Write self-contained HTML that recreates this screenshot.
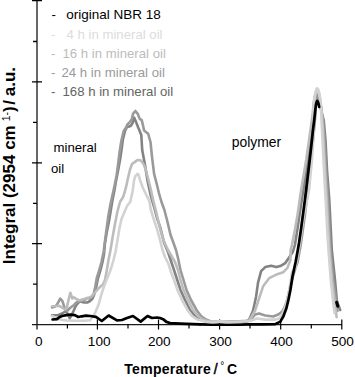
<!DOCTYPE html>
<html><head><meta charset="utf-8"><style>
html,body{margin:0;padding:0;background:#fff;}
body{width:355px;height:377px;overflow:hidden;position:relative;font-family:"Liberation Sans",sans-serif;}
svg{position:absolute;left:0;top:0;}
</style></head><body>
<svg width="355" height="377" viewBox="0 0 355 377" font-family="Liberation Sans, sans-serif">
<g stroke="#000" fill="none">
<line x1="37" y1="0" x2="37" y2="329.5" stroke-width="1.2"/>
<line x1="32" y1="324.6" x2="342" y2="324.6" stroke-width="1.2" stroke="#1a1a1a"/>
<path d="M32 0.7H42M33 41.5H37M32 81.8H42M33 122.4H37M32 162.8H42M33 203.4H37M32 243.6H42M33 284.2H37" stroke-width="1.3"/>
<path d="M67.4 324V328.5M97.4 319.5V329.5M128 324V328.5M158.5 319.5V329.5M189 324V328.5M219.6 319.5V329.5M250 324V328.5M280.7 319.5V329.5M311.3 324V328.5M341.8 319.5V329.5" stroke-width="1.2"/>
</g>
<g fill="none" stroke-linejoin="round" stroke-linecap="round">
<polyline points="200.0,324.4 212.0,324.7 225.0,324.6 238.0,324.7 250.0,324.4" stroke="#000" stroke-width="2.7"/>
<polyline points="52.0,315.3 58.0,315.3 62.0,313.5 66.0,311.0 68.7,315.8 69.7,318.3 72.4,313.6 75.6,306.2 78.0,303.0 80.5,301.5 84.0,302.5 87.3,302.5 90.0,301.0 92.5,298.5 94.4,294.0 96.2,287.0 98.0,278.0 100.5,270.0 102.5,262.0 104.0,254.0 105.0,243.0 107.0,231.0 109.0,221.0 110.5,212.0 112.5,200.0 114.5,190.0 116.0,181.0 118.0,171.0 120.0,160.0 121.5,150.0 122.8,140.0 125.0,131.0 127.0,127.0 129.0,126.5 131.0,125.7 132.6,122.9 134.2,117.7 136.1,122.1 138.1,127.3 140.1,132.0 141.3,135.0 142.2,150.0 145.0,165.0 147.7,181.8 150.9,196.1 154.9,210.0 157.0,218.0 160.1,226.9 164.1,242.8 168.0,252.0 174.0,270.0 180.5,290.0 185.0,300.0 190.0,310.0 195.0,316.0 201.0,319.5 208.0,321.9 215.0,322.3 222.0,321.6 230.0,322.2 240.0,321.9 246.0,321.5 249.0,320.0 253.1,310.5 256.1,296.4 258.1,282.3 261.1,271.2 265.2,267.1 271.2,265.7 276.3,267.1 280.3,266.1 285.3,263.1 289.4,257.0 292.8,252.0 294.9,245.0 297.3,230.0 299.5,215.0 303.3,190.0 308.1,160.0 312.0,130.0 313.9,115.0 314.6,106.0 315.5,100.5 316.5,98.0 317.4,97.5 318.3,99.0 319.2,102.0 320.2,106.0 322.0,114.0 323.7,120.0 325.5,140.0 327.0,170.0 329.3,200.0 330.8,230.0 331.8,250.0 335.0,280.0 336.8,300.0 338.3,305.0 340.2,310.0" stroke="#838383" stroke-width="2.6"/>
<polyline points="52.0,307.5 55.0,306.5 57.0,304.6 60.2,298.6 62.3,300.9 63.9,305.7 65.0,309.4 67.0,311.0 70.0,308.0 74.0,305.0 77.0,302.0 80.0,301.0 84.0,300.5 87.0,298.0 90.0,298.5 92.0,297.0 93.8,293.5 95.2,287.0 96.8,278.0 99.3,270.0 101.5,262.0 103.6,252.0 105.5,237.0 107.0,226.0 108.5,215.0 110.5,204.0 112.5,195.0 114.5,186.0 116.5,176.0 118.0,165.0 119.6,152.0 121.3,141.0 123.7,131.0 125.8,128.0 127.4,124.5 129.8,122.1 131.8,119.3 133.0,113.8 135.4,111.0 137.7,113.8 139.7,118.9 141.7,120.1 142.9,124.9 144.1,130.5 148.1,133.7 150.5,142.0 151.8,155.0 154.1,173.9 157.0,185.0 158.9,193.0 161.5,202.0 164.4,210.0 167.5,222.0 170.5,234.8 173.5,243.0 176.0,250.0 178.0,258.0 180.5,270.0 183.5,280.0 186.5,290.0 191.0,300.0 196.5,310.0 201.0,316.0 206.0,319.5 212.0,321.9 218.0,321.3 225.0,322.1 232.0,321.4 240.0,322.0 247.0,321.5 250.0,320.0 255.1,314.5 259.1,313.5 265.2,315.5 273.2,316.5 278.3,314.5 282.3,311.5 284.5,307.5 286.5,302.0 289.5,290.0 292.5,278.0 295.5,268.0 297.6,262.0 300.7,245.0 304.9,215.0 307.9,190.0 310.9,160.0 314.0,130.0 315.4,115.0 315.6,106.0 316.2,99.0 316.8,95.5 317.5,94.3 318.4,95.5 319.4,99.0 320.4,104.0 321.5,111.0 323.0,120.0 324.5,140.0 326.0,170.0 328.0,200.0 329.5,230.0 330.5,250.0 333.2,280.0 336.0,300.0 337.5,311.0" stroke="#9a9a9a" stroke-width="2.6"/>
<polyline points="52.0,306.3 56.5,306.0 58.6,305.7 62.0,307.5 65.0,309.5 66.8,308.0 68.5,300.0 70.3,292.7 72.4,298.5 73.9,297.3 75.3,298.4 79.5,300.5 81.6,299.8 85.8,298.4 88.7,297.7 91.5,296.3 93.0,295.0 95.0,292.5 97.2,289.9 100.0,287.0 103.0,284.6 105.0,280.0 106.5,272.0 108.5,260.0 110.5,250.0 112.8,236.0 115.0,224.0 117.3,212.0 120.0,202.0 123.1,197.0 125.0,191.0 126.3,185.9 128.0,178.0 129.9,170.0 132.0,164.0 135.0,161.9 137.5,160.0 140.6,160.3 143.7,164.3 146.1,170.7 148.5,180.2 150.9,189.8 153.3,200.9 155.7,210.0 158.0,220.0 161.0,232.0 164.5,242.8 168.0,250.0 171.5,256.0 175.0,262.0 178.0,270.0 180.5,280.0 183.5,290.0 188.0,300.0 193.0,310.0 198.0,316.0 203.0,319.5 209.0,321.6 216.0,321.9 222.0,321.3 235.0,321.8 242.0,321.1 247.0,320.7 249.0,320.6 252.0,316.0 255.1,310.5 259.1,298.4 263.1,286.3 269.2,278.2 277.3,274.2 283.3,272.2 287.3,268.1 290.4,260.1 290.6,250.0 291.9,245.0 294.9,230.0 297.5,215.0 301.1,190.0 306.2,160.0 310.5,130.0 312.6,115.0 313.5,104.0 314.6,97.0 315.7,92.0 317.0,89.0 318.2,90.5 319.3,94.5 320.3,100.0 321.2,107.0 322.3,120.0 323.5,140.0 325.0,170.0 326.8,200.0 328.3,230.0 329.5,250.0 332.0,280.0 334.5,300.0 336.6,317.2" stroke="#bcbcbc" stroke-width="2.6"/>
<polyline points="52.0,316.0 57.0,318.5 62.0,320.0 67.0,320.5 75.0,320.8 84.0,320.8 90.0,320.3 92.0,317.5 93.9,315.1 95.9,311.1 98.6,304.5 101.2,295.2 103.8,287.0 106.5,280.0 109.0,274.0 111.5,267.0 113.5,260.0 115.5,252.0 117.5,240.0 119.5,228.0 121.5,219.0 124.7,211.4 127.0,206.0 130.3,201.8 132.7,190.7 134.2,179.5 135.5,176.0 137.4,173.8 138.5,174.5 139.8,179.4 143.0,188.2 146.1,194.5 147.7,197.7 149.3,200.9 150.9,210.0 154.0,220.0 157.0,229.0 160.0,240.0 162.5,250.0 165.0,257.0 168.5,264.0 171.0,272.0 174.0,280.0 177.5,290.0 182.0,300.0 187.5,310.0 192.0,316.0 198.0,319.8 205.0,321.6 212.0,322.1 220.0,321.4 228.0,322.1 240.0,321.7 250.0,321.0 254.0,319.5 257.1,318.5 265.2,319.6 275.2,319.6 279.0,318.5 282.0,315.0 284.5,309.0 286.5,302.0 288.5,294.0 290.2,284.0 292.0,272.0 295.3,268.0 299.7,245.0 303.9,215.0 309.1,190.0 311.9,160.0 314.0,130.0 313.2,115.0 313.9,104.0 314.9,96.0 315.9,91.0 317.0,88.3 318.1,89.5 319.2,93.0 320.2,99.0 320.9,106.0 321.5,120.0 322.5,140.0 324.0,170.0 325.7,200.0 327.2,230.0 328.5,250.0 330.8,280.0 333.0,300.0 334.5,313.0" stroke="#d2d2d2" stroke-width="2.6"/>
<polyline points="52.5,319.5 57.0,319.1 59.3,317.2 62.0,316.0 66.3,315.1 70.5,314.6 74.8,315.1 78.3,317.0 81.8,316.3 86.0,315.6 90.3,316.0 95.9,316.8 101.8,321.0 108.6,315.5 117.0,320.3 122.0,320.0 126.3,318.3 133.0,316.0 140.7,321.6 147.5,316.0 152.0,318.0 157.0,317.5 160.0,318.0 163.7,319.6 166.4,321.9 170.0,323.0 180.0,323.6 200.0,324.4" stroke="#000" stroke-width="2.7"/>
<polyline points="250.0,324.4 262.0,324.3 275.2,324.1 280.3,321.6 283.3,316.5 286.3,308.5 288.3,300.4 290.4,290.0 292.6,276.0 295.6,262.0 297.8,250.0 299.0,243.0 300.9,230.0 302.9,215.0 304.9,200.0 307.3,180.0 309.7,160.0 311.4,145.0 313.0,130.0 314.2,120.0 315.3,110.0 315.9,105.0 316.5,102.2 317.2,101.0 317.9,101.8 318.6,104.0 319.2,107.0" stroke="#000" stroke-width="2.7"/>
<polyline points="336.6,302.3 337.8,306.3" stroke="#000" stroke-width="3"/>
</g>
<g font-size="13.6" fill="#000" text-anchor="middle">
<text x="38.8" y="345.6">0</text>
<text x="99.2" y="345.6">100</text>
<text x="159.3" y="345.6">200</text>
<text x="220.6" y="345.6">300</text>
<text x="281.6" y="345.6">400</text>
<text x="342.5" y="345.6">500</text>
</g>
<g font-size="14" font-weight="bold" fill="#000">
<text x="124.3" y="373.9" letter-spacing="0.28">Temperature</text>
<text x="213.8" y="373.9" font-weight="normal" stroke="#000" stroke-width="0.5">/</text>
<text x="220.3" y="369" font-size="10" font-weight="normal">°</text>
<text x="227" y="373.9">C</text>
</g>
<g transform="translate(15.1,263.2) rotate(-90)" font-weight="bold" font-size="17" fill="#000">
<text x="-1" y="0">Integral (2954 cm</text>
<text x="142.0" y="-5.6" font-size="10.5" font-weight="normal">1</text>
<text x="147.6" y="-5.6" font-size="10.5" font-weight="normal">-</text>
<text x="151.2" y="0">)</text>
<text x="158.5" y="0">/</text>
<text x="167" y="0">a.u.</text>
</g>
<g font-size="13.2">
<text x="51.5" y="19.4" fill="#000">-</text><text x="66.3" y="19.4" fill="#000" font-size="13.5">original NBR 18</text>
<text x="51" y="38.6" fill="#dcdcdc">-</text><text x="66.5" y="38.6" fill="#dcdcdc">4 h in mineral oil</text>
<text x="51" y="57.8" fill="#bcbcbc">-</text><text x="62.5" y="57.8" fill="#bcbcbc">16 h in mineral oil</text>
<text x="51" y="77" fill="#9a9a9a">-</text><text x="61.5" y="77" fill="#9a9a9a">24 h in mineral oil</text>
<text x="51" y="96.2" fill="#646464">-</text><text x="62.5" y="96.2" fill="#646464">168 h in mineral oil</text>
</g>
<g font-size="13.2" fill="#000">
<text x="53.5" y="151.6">mineral</text>
<text x="51" y="173.1">oil</text>
<text x="231.8" y="147" font-size="13.9">polymer</text>
</g>
</svg>
</body></html>
